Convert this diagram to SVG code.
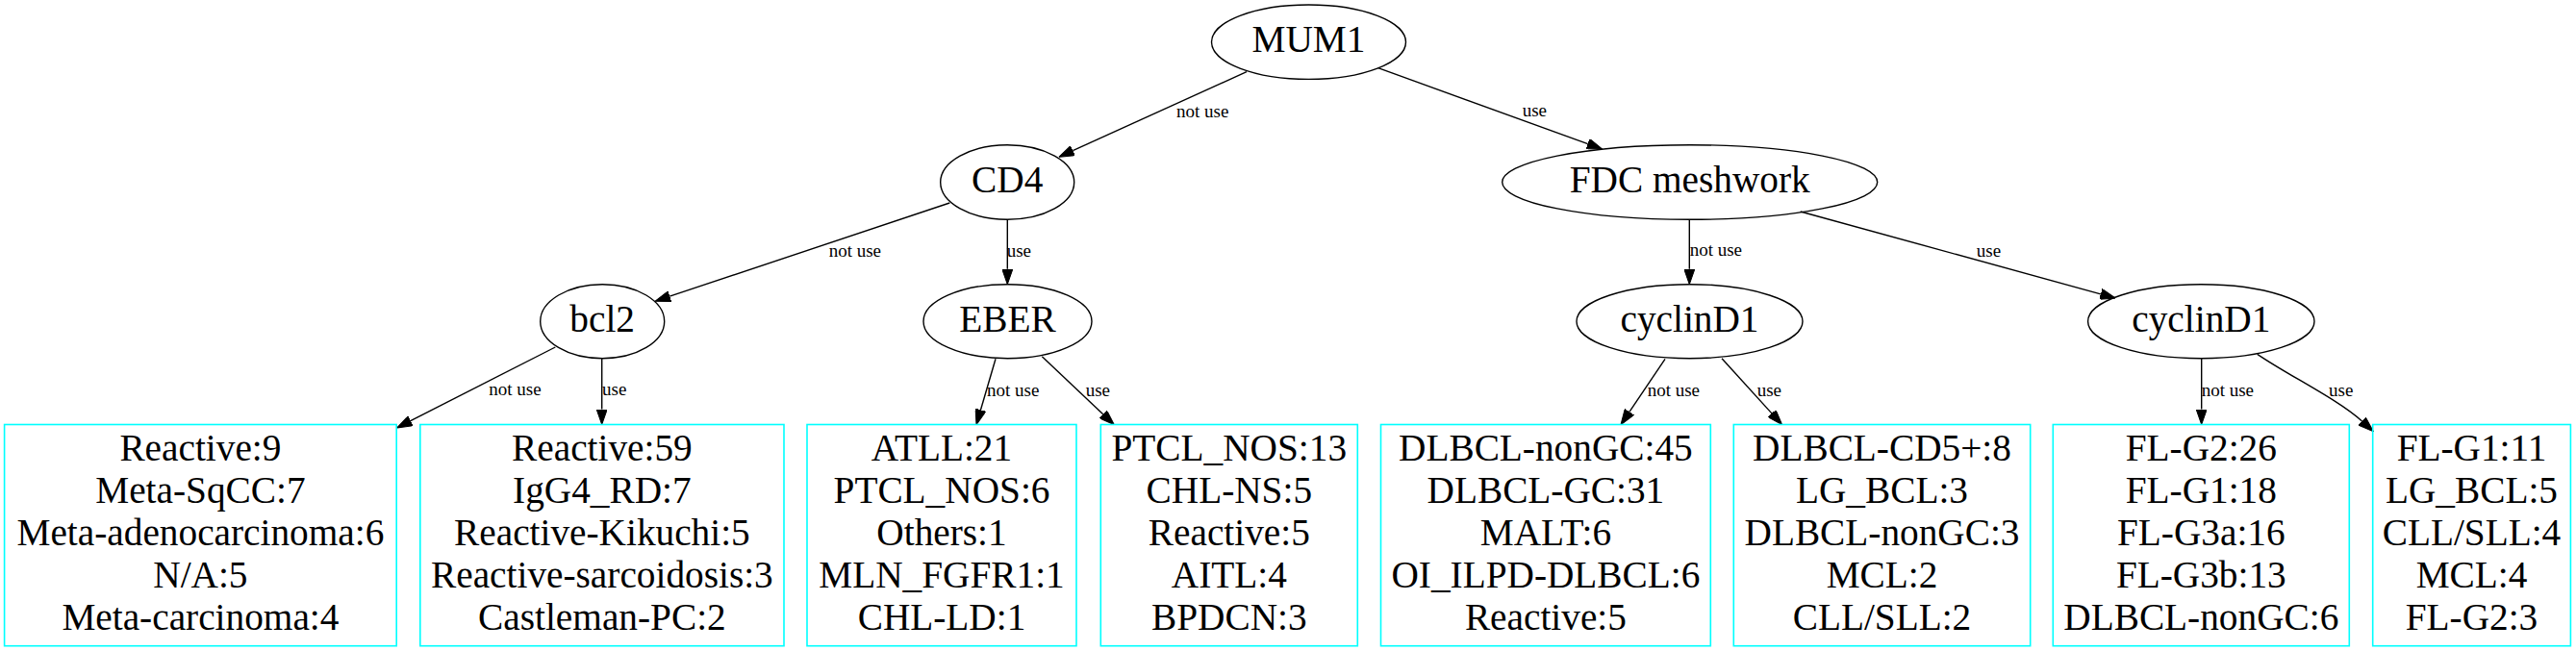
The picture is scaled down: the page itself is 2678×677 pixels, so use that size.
<svg xmlns="http://www.w3.org/2000/svg" width="2678" height="677" viewBox="0 0 2678 677">
<style>
  .node ellipse { fill: none; stroke: #000; stroke-width: 1.4; }
  .node text { font-family: "Liberation Serif", "Times New Roman", serif; font-size: 39.3px; fill: #000; text-anchor: middle; }
  .leaf rect { fill: none; stroke: #00ffff; stroke-width: 1.6; }
  .leaf text { font-family: "Liberation Serif", "Times New Roman", serif; font-size: 39.3px; fill: #000; text-anchor: middle; }
  .edge path { fill: none; stroke: #000; stroke-width: 1.4; }
  .elabel { font-family: "Liberation Serif", "Times New Roman", serif; font-size: 19px; fill: #000; }
</style>
<defs>
  <marker id="arr" markerUnits="userSpaceOnUse" viewBox="0 0 16 11.2" refX="0" refY="5.6" markerWidth="16" markerHeight="11.2" orient="auto">
    <path d="M0,0 L16,5.6 L0,11.2 z" fill="#000" stroke="#000" stroke-width="1"/>
  </marker>
</defs>
<rect width="2678" height="677" fill="#fff"/>

<g id="connectors">
  <g class="edge"><path d="M1296,74.7 L1115.3,156.7" marker-end="url(#arr)"/><text class="elabel" x="1223" y="122">not use</text></g>
  <g class="edge"><path d="M1432.7,70.7 L1650.7,149.6" marker-end="url(#arr)"/><text class="elabel" x="1582.7" y="120.7">use</text></g>
  <g class="edge"><path d="M987.3,211 L696.2,308.2" marker-end="url(#arr)"/><text class="elabel" x="861.7" y="266.7">not use</text></g>
  <g class="edge"><path d="M1047.3,228.3 L1047.3,279.7" marker-end="url(#arr)"/><text class="elabel" x="1046.7" y="266.7">use</text></g>
  <g class="edge"><path d="M577.3,361 L426.8,437.7" marker-end="url(#arr)"/><text class="elabel" x="508.3" y="411">not use</text></g>
  <g class="edge"><path d="M625.7,372.7 L625.7,425.5" marker-end="url(#arr)"/><text class="elabel" x="626" y="411">use</text></g>
  <g class="edge"><path d="M1035,373.3 L1019.5,426.3" marker-end="url(#arr)"/><text class="elabel" x="1026" y="411.7">not use</text></g>
  <g class="edge"><path d="M1083.3,370.7 L1146.7,430.7" marker-end="url(#arr)"/><text class="elabel" x="1128.7" y="411.7">use</text></g>
  <g class="edge"><path d="M1756.3,228.3 L1756.3,279.7" marker-end="url(#arr)"/><text class="elabel" x="1756.7" y="266">not use</text></g>
  <g class="edge"><path d="M1871.7,220 L2183.9,305.8" marker-end="url(#arr)"/><text class="elabel" x="2054.8" y="266.7">use</text></g>
  <g class="edge"><path d="M1731,373.3 L1693.9,428.4" marker-end="url(#arr)"/><text class="elabel" x="1712.7" y="411.7">not use</text></g>
  <g class="edge"><path d="M1790,372.7 L1841.9,429.9" marker-end="url(#arr)"/><text class="elabel" x="1826.7" y="411.7">use</text></g>
  <g class="edge"><path d="M2288.7,373 L2288.7,425.5" marker-end="url(#arr)"/><text class="elabel" x="2288.7" y="411.7">not use</text></g>
  <g class="edge"><path d="M2346.7,368.3 C2380,391 2430,415 2455.5,438" marker-end="url(#arr)"/><text class="elabel" x="2421" y="411.7">use</text></g>
</g>

<g id="MUM1" class="node"><ellipse cx="1360.5" cy="43.7" rx="101" ry="38.7"/><text x="1360.5" y="54.3">MUM1</text></g>
<g id="CD4" class="node"><ellipse cx="1047.2" cy="189.5" rx="69.5" ry="38.8"/><text x="1047.2" y="200">CD4</text></g>
<g id="FDC" class="node"><ellipse cx="1756.7" cy="189.5" rx="195" ry="38.8"/><text x="1756.7" y="200">FDC meshwork</text></g>
<g id="bcl2" class="node"><ellipse cx="626.2" cy="334.2" rx="64.5" ry="38.5"/><text x="626.2" y="344.7">bcl2</text></g>
<g id="EBER" class="node"><ellipse cx="1047.5" cy="334.2" rx="87.5" ry="38.5"/><text x="1047.5" y="344.7">EBER</text></g>
<g id="cyclinD1_L" class="node"><ellipse cx="1756.5" cy="334.2" rx="117.5" ry="38.5"/><text x="1756.5" y="344.7">cyclinD1</text></g>
<g id="cyclinD1_R" class="node"><ellipse cx="2288.3" cy="334.2" rx="117.7" ry="38.5"/><text x="2288.3" y="344.7">cyclinD1</text></g>

<g id="leaf1" class="leaf"><rect x="4.6" y="441.5" width="407.6" height="230.2"/>
  <text x="208.4" y="478.5">Reactive:9</text><text x="208.4" y="522.5">Meta-SqCC:7</text><text x="208.4" y="566.5">Meta-adenocarcinoma:6</text><text x="208.4" y="610.5">N/A:5</text><text x="208.4" y="654.5">Meta-carcinoma:4</text></g>
<g id="leaf2" class="leaf"><rect x="436.8" y="441.5" width="378.2" height="230.2"/>
  <text x="625.9" y="478.5">Reactive:59</text><text x="625.9" y="522.5">IgG4_RD:7</text><text x="625.9" y="566.5">Reactive-Kikuchi:5</text><text x="625.9" y="610.5">Reactive-sarcoidosis:3</text><text x="625.9" y="654.5">Castleman-PC:2</text></g>
<g id="leaf3" class="leaf"><rect x="839" y="441.5" width="280" height="230.2"/>
  <text x="979" y="478.5">ATLL:21</text><text x="979" y="522.5">PTCL_NOS:6</text><text x="979" y="566.5">Others:1</text><text x="979" y="610.5">MLN_FGFR1:1</text><text x="979" y="654.5">CHL-LD:1</text></g>
<g id="leaf4" class="leaf"><rect x="1144.3" y="441.5" width="267" height="230.2"/>
  <text x="1277.8" y="478.5">PTCL_NOS:13</text><text x="1277.8" y="522.5">CHL-NS:5</text><text x="1277.8" y="566.5">Reactive:5</text><text x="1277.8" y="610.5">AITL:4</text><text x="1277.8" y="654.5">BPDCN:3</text></g>
<g id="leaf5" class="leaf"><rect x="1435.5" y="441.5" width="342.8" height="230.2"/>
  <text x="1606.9" y="478.5">DLBCL-nonGC:45</text><text x="1606.9" y="522.5">DLBCL-GC:31</text><text x="1606.9" y="566.5">MALT:6</text><text x="1606.9" y="610.5">OI_ILPD-DLBCL:6</text><text x="1606.9" y="654.5">Reactive:5</text></g>
<g id="leaf6" class="leaf"><rect x="1802.3" y="441.5" width="308.4" height="230.2"/>
  <text x="1956.5" y="478.5">DLBCL-CD5+:8</text><text x="1956.5" y="522.5">LG_BCL:3</text><text x="1956.5" y="566.5">DLBCL-nonGC:3</text><text x="1956.5" y="610.5">MCL:2</text><text x="1956.5" y="654.5">CLL/SLL:2</text></g>
<g id="leaf7" class="leaf"><rect x="2134.3" y="441.5" width="308" height="230.2"/>
  <text x="2288.3" y="478.5">FL-G2:26</text><text x="2288.3" y="522.5">FL-G1:18</text><text x="2288.3" y="566.5">FL-G3a:16</text><text x="2288.3" y="610.5">FL-G3b:13</text><text x="2288.3" y="654.5">DLBCL-nonGC:6</text></g>
<g id="leaf8" class="leaf"><rect x="2466.7" y="441.5" width="205.7" height="230.2"/>
  <text x="2569.5" y="478.5">FL-G1:11</text><text x="2569.5" y="522.5">LG_BCL:5</text><text x="2569.5" y="566.5">CLL/SLL:4</text><text x="2569.5" y="610.5">MCL:4</text><text x="2569.5" y="654.5">FL-G2:3</text></g>
</svg>
